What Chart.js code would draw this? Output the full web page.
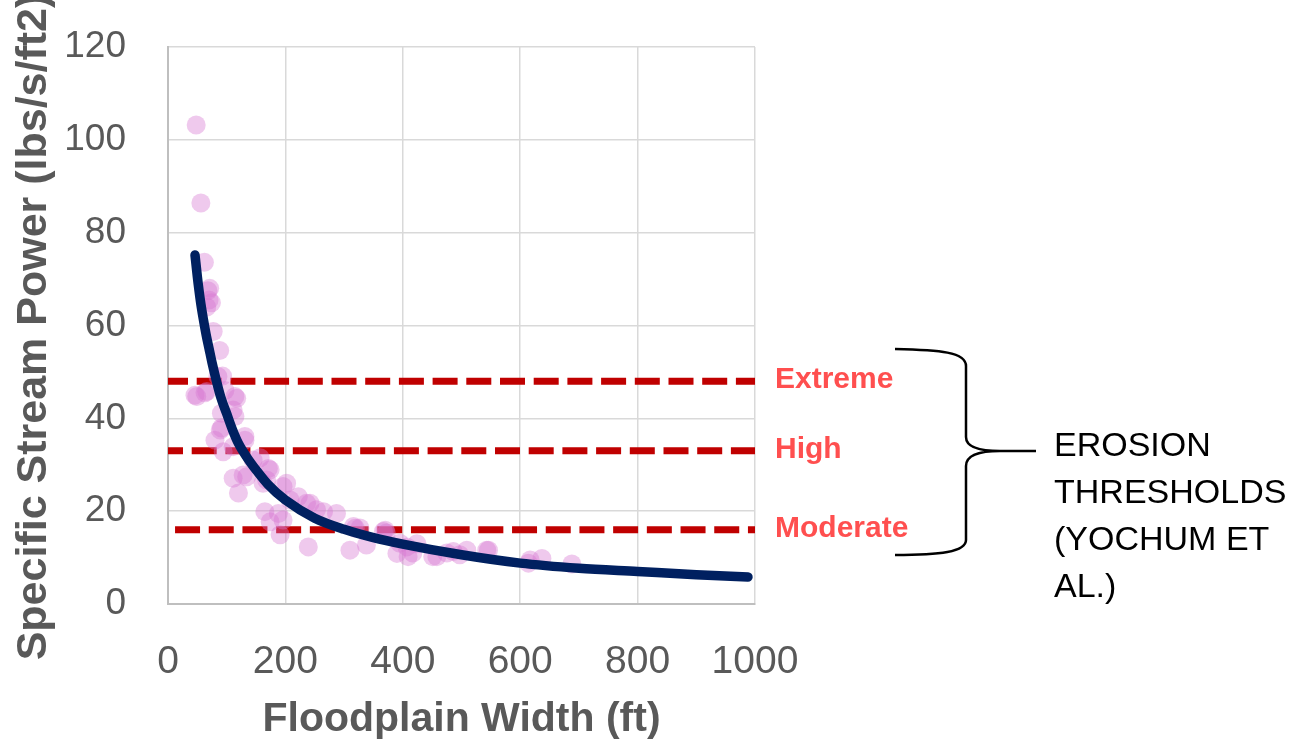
<!DOCTYPE html>
<html>
<head>
<meta charset="utf-8">
<title>Specific Stream Power vs Floodplain Width</title>
<script src="https://cdn.jsdelivr.net/npm/chart.js@4.4.1/dist/chart.umd.min.js"></script>
<style>
  html, body { margin: 0; padding: 0; background: #fff; }
  canvas { display: block; }
</style>
</head>
<body>
<canvas id="powerChart" width="1298" height="744"></canvas>
<script>
// Measured points: floodplain width (ft) vs specific stream power (lbs/s/ft2)
const widthFt = [48, 56, 62, 68, 70, 71, 74, 66, 77, 88, 93, 85, 46, 49, 63, 66, 97, 114, 117, 111, 91, 114,
  89, 91, 80, 131, 131, 94, 111, 145, 157, 111, 128, 120, 134, 171, 162, 174, 168, 196, 202, 208, 165, 188,
  174, 196, 191, 222, 236, 242, 253, 265, 287, 239, 310, 316, 319, 327, 338, 367, 372, 370, 390, 395, 407,
  409, 417, 424, 451, 458, 475, 486, 497, 509, 543, 546, 614, 617, 637, 688];
const powerVals = [103.2, 86.4, 73.6, 67.5, 65.5, 68, 64.9, 64, 58.7, 54.6, 49.1, 49, 45, 44.7, 45.5, 45.8,
  46, 44.7, 44.3, 41.8, 41.1, 40.4, 37.5, 37.9, 35.3, 36.1, 35.3, 32.8, 33.9, 31, 31.5, 27.1, 27.8, 23.9,
  27.4, 29.2, 26, 28.9, 26.7, 25.3, 26, 22.4, 19.9, 19.5, 17.7, 18.1, 14.9, 23.1, 21.7, 21.7, 20.3, 19.9,
  19.5, 12.3, 11.6, 16.7, 16.3, 16.4, 12.7, 15.6, 15.3, 15.9, 10.9, 13.1, 12.3, 10.2, 11, 13, 10.2, 10.2,
  11, 11.3, 10.6, 11.6, 11.6, 11.6, 8.8, 9.5, 9.8, 8.6];

// Fitted trend curve
const fitWidth = [46, 50, 55, 60, 65, 70, 75, 83, 90, 100, 110, 120, 135, 150, 170, 200, 250, 300, 350, 400,
  500, 600, 700, 800, 900, 988];
const fitPower = [75.2, 70.5, 65.5, 61.5, 58, 55, 52, 47.8, 44.5, 41, 37.5, 34.6, 31.5, 28.9, 25.8, 22.4,
  18.5, 16.1, 14.3, 12.9, 10.6, 8.8, 7.7, 7.0, 6.3, 5.8];

// Erosion thresholds (Yochum et al.)
const thresholdNames = ['Extreme', 'High', 'Moderate'];
const thresholdValues = [48, 33, 16];
const thresholdStart = [0, 0, 12];
const thresholdEnd = 1000;
const noteLines = ['EROSION', 'THRESHOLDS', '(YOCHUM ET', 'AL.)'];

const xTicks = [0, 200, 400, 600, 800, 1000];
const yTicks = [0, 20, 40, 60, 80, 100, 120];

const axisGrey = '#595959';

function toPoints(xs, ys) {
    return xs.map((x, i) => ({ x: x, y: ys[i] }));
}

// Labels, brace, note text and the y title drawn on top
const annotations = {
    id: 'annotations',
    afterDraw(chart) {
        const ctx = chart.ctx;
        const y = chart.scales.y;
        ctx.save();

        // threshold names
        ctx.font = 'bold 30px "Liberation Sans"';
        ctx.fillStyle = '#FF4F4F';
        ctx.textAlign = 'left';
        ctx.textBaseline = 'middle';
        thresholdNames.forEach((name, i) => {
            ctx.fillText(name, 775, y.getPixelForValue(thresholdValues[i]) - 1);
        });

        // curly brace
        ctx.strokeStyle = '#000';
        ctx.lineWidth = 2.5;
        ctx.beginPath();
        ctx.moveTo(895, 349);
        ctx.bezierCurveTo(940, 350, 966, 352, 966, 366);
        ctx.lineTo(966, 437);
        ctx.bezierCurveTo(966, 447, 980, 451, 1000, 451);
        ctx.lineTo(1036, 451);
        ctx.moveTo(1000, 451);
        ctx.bezierCurveTo(980, 451, 966, 455, 966, 466);
        ctx.lineTo(966, 540);
        ctx.bezierCurveTo(966, 552, 940, 555, 895, 555);
        ctx.stroke();

        // note text
        ctx.font = '34px "Liberation Sans"';
        ctx.fillStyle = '#000';
        noteLines.forEach((line, i) => {
            ctx.fillText(line, 1054, 447 + i * 47);
        });

        // y axis title (runs off the top like the original)
        ctx.translate(34, 327);
        ctx.rotate(-Math.PI / 2);
        ctx.font = 'bold 43px "Liberation Sans"';
        ctx.fillStyle = axisGrey;
        ctx.textAlign = 'center';
        ctx.fillText('Specific Stream Power (lbs/s/ft2)', 0, 0);

        ctx.restore();
    }
};

const datasets = [
    {
        type: 'line',
        label: 'Trend',
        data: toPoints(fitWidth, fitPower),
        borderColor: '#002060',
        borderWidth: 9.5,
        borderCapStyle: 'round',
        cubicInterpolationMode: 'monotone',
        pointRadius: 0,
        fill: false
    },
    {
        type: 'scatter',
        label: 'Observed',
        data: toPoints(widthFt, powerVals),
        backgroundColor: 'rgba(215, 120, 210, 0.4)',
        borderWidth: 0,
        pointRadius: 9.5
    }
];

thresholdNames.forEach((name, i) => {
    datasets.push({
        type: 'line',
        label: name,
        data: [{ x: thresholdStart[i], y: thresholdValues[i] }, { x: thresholdEnd, y: thresholdValues[i] }],
        borderColor: '#C00000',
        borderWidth: 7,
        borderDash: [25, 8.7],
        borderDashOffset: [5, 10, 0][i],
        pointRadius: 0,
        fill: false
    });
});

const ctx = document.getElementById('powerChart').getContext('2d');
new Chart(ctx, {
    type: 'scatter',
    data: { datasets: datasets },
    options: {
        responsive: false,
        animation: false,
        layout: { padding: { top: 47, right: 543, left: 0, bottom: 0 } },
        plugins: {
            legend: { display: false },
            tooltip: { enabled: false }
        },
        scales: {
            x: {
                type: 'linear',
                min: 0,
                max: 1000,
                afterBuildTicks: scale => { scale.ticks = xTicks.map(v => ({ value: v })); },
                afterFit: scale => { scale.height = 140; },
                ticks: {
                    color: axisGrey,
                    padding: 35,
                    font: { family: 'Liberation Sans', size: 39 },
                    callback: value => String(value)
                },
                grid: { color: '#D9D9D9', lineWidth: 1.5, drawTicks: false },
                border: { color: '#BFBFBF', width: 2 },
                title: {
                    display: true,
                    text: 'Floodplain Width (ft)',
                    color: axisGrey,
                    font: { family: 'Liberation Sans', size: 41, weight: 'bold' },
                    padding: { top: 0, bottom: 0 }
                }
            },
            y: {
                type: 'linear',
                min: 0,
                max: 120,
                afterBuildTicks: scale => { scale.ticks = yTicks.map(v => ({ value: v })); },
                afterFit: scale => {
                    scale.width = 168;
                    // tick padding would otherwise push the plot down
                    scale.paddingTop = 0;
                    scale.paddingBottom = 0;
                },
                ticks: {
                    color: axisGrey,
                    padding: 42,
                    font: { family: 'Liberation Sans', size: 37 },
                    callback: value => String(value)
                },
                grid: { color: '#D9D9D9', lineWidth: 1.5, drawTicks: false },
                border: { color: '#BFBFBF', width: 2 }
            }
        }
    },
    plugins: [annotations]
});
</script>
</body>
</html>
